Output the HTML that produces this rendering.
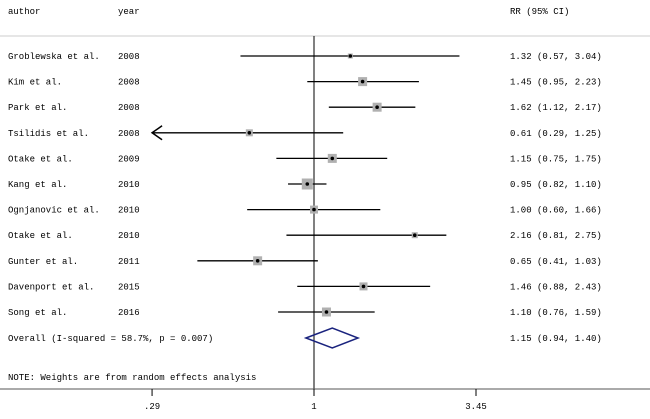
<!DOCTYPE html>
<html><head><meta charset="utf-8"><style>
body{margin:0;background:#fff}
svg text{font-family:"Liberation Mono","Noto Sans CJK SC",monospace;font-size:9px;fill:#000}
</style></head><body>
<svg id="c" width="650" height="414"></svg>
<script>
const authors=["Groblewska et al.","Kim et al.","Park et al.","Tsilidis et al.","Otake et al.","Kang et al.","Ognjanovic et al.","Otake et al.","Gunter et al.","Davenport et al.","Song et al."];
const years=["2008","2008","2008","2008","2009","2010","2010","2010","2011","2015","2016"];
const rr=[1.32,1.45,1.62,0.61,1.15,0.95,1.00,2.16,0.65,1.46,1.10];
const lo=[0.57,0.95,1.12,0.29,0.75,0.82,0.60,0.81,0.41,0.88,0.76];
const hi=[3.04,2.23,2.17,1.25,1.75,1.10,1.66,2.75,1.03,2.43,1.59];
const weights=[5,9,9,7,9,11,8,6,9,8,9];
const overall=[1.15,0.94,1.40];
const ticks=[0.29,1,3.45];
const tickLabels=[".29","1","3.45"];
const svg=document.getElementById('c');const NS="http://www.w3.org/2000/svg";
function el(t,a,txt){const e=document.createElementNS(NS,t);for(const k in a)e.setAttribute(k,a[k]);if(txt!==undefined)e.textContent=txt;svg.appendChild(e);return e;}
const x=v=>314+Math.log(v)*162/Math.log(3.45);
const rowY=i=>56+i*25.6;
const fmt=v=>v.toFixed(2);
let e;
e=el('text',{x:8,y:14},'author');


e=el('text',{x:118,y:14},'year');


e=el('text',{x:510,y:14},'RR (95% CI)');


e=el('line',{x1:0,y1:36,x2:650,y2:36,stroke:'#ccc','stroke-width':1});


e=el('line',{x1:x(1),y1:36,x2:x(1),y2:389,stroke:'#000','stroke-width':1});


authors.forEach((a,i)=>{
 const y=rowY(i);
 e=el('text',{x:8,y:y+3},a);
 
 
 e=el('text',{x:118,y:y+3},years[i]);
 
 
 e=el('text',{x:510,y:y+3},fmt(rr[i])+' ('+fmt(lo[i])+', '+fmt(hi[i])+')');
 
 
 const l=Math.max(x(lo[i]),152);
 e=el('line',{x1:l,y1:y,x2:x(hi[i]),y2:y,stroke:'#000','stroke-width':1.3});
 
 
 if(lo[i]<=0.29){
  e=el('path',{d:`M${l+10},${y-7} L${l},${y} L${l+10},${y+7}`,fill:'none',stroke:'#000','stroke-width':1.5});
  
  
 }
 const s=weights[i];
 e=el('rect',{x:x(rr[i])-s/2,y:y-s/2,width:s,height:s,fill:'#b0b0b0'});
 
 
 e=el('circle',{cx:x(rr[i]),cy:y,r:1.8,fill:'#000'});
 
 
});
const oy=338;
e=el('text',{x:8,y:oy+3},'Overall  (I-squared = 58.7%, p = 0.007)');


e=el('text',{x:510,y:oy+3},fmt(overall[0])+' ('+fmt(overall[1])+', '+fmt(overall[2])+')');


e=el('polygon',{points:`${x(overall[1])},${oy} ${x(overall[0])},${oy-10} ${x(overall[2])},${oy} ${x(overall[0])},${oy+10}`,fill:'none',stroke:'#1a237e','stroke-width':1.5});


e=el('text',{x:8,y:380},'NOTE: Weights are from random effects analysis');


e=el('line',{x1:0,y1:389,x2:650,y2:389,stroke:'#555','stroke-width':1});


ticks.forEach((t,i)=>{
 e=el('line',{x1:x(t),y1:389,x2:x(t),y2:396,stroke:'#000','stroke-width':1});
 
 
 e=el('text',{x:x(t),y:409,'text-anchor':'middle'},tickLabels[i]);
 
 
});
</script>
</body></html>
